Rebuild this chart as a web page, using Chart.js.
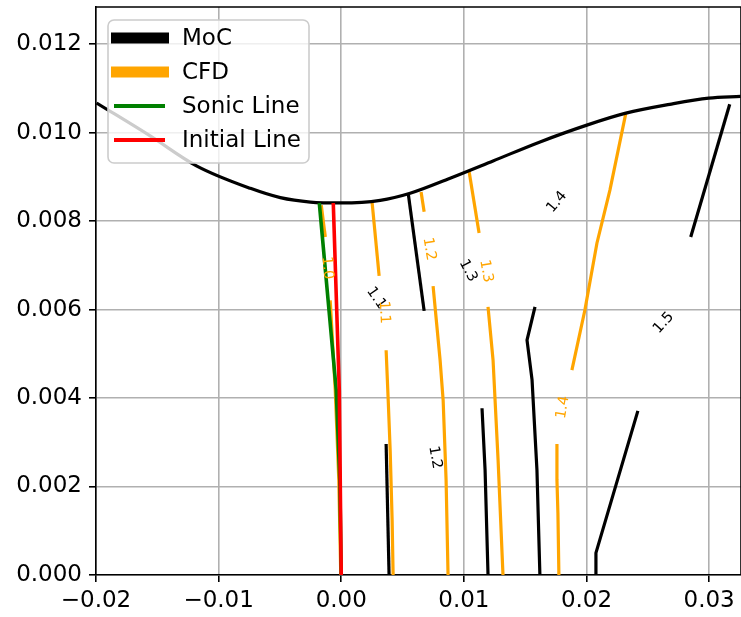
<!DOCTYPE html>
<html>
<head>
<meta charset="utf-8">
<script src="https://cdn.jsdelivr.net/npm/chart.js@4"></script>
<style>
  html, body { margin: 0; padding: 0; background: #fff; }
  #wrap { width: 741px; height: 617px; position: relative; }
</style>
</head>
<body>
<div id="wrap"><canvas id="nozzleChart"></canvas></div>
<script>
// nozzle wall contour
const wallX = [-0.01995, -0.01555, -0.01181, -0.00741, -0.00497, -0.00252, 0, 0.00318, 0.00562, 0.00888, 0.01238, 0.01621, 0.02003, 0.02321, 0.02679, 0.02997, 0.03257];
const wallY = [0.01067, 0.00992, 0.00925, 0.00874, 0.00853, 0.00843, 0.00841, 0.00847, 0.00863, 0.00897, 0.00936, 0.00979, 0.01017, 0.01044, 0.01064, 0.01078, 0.01082];

// sonic line + initial line
const sonicX = [-0.00179, -0.00041, -0.00012, 0];
const sonicY = [0.00841, 0.00418, 0.00215, 0];
const initialX = [-0.00065, -0.00016, 0];
const initialY = [0.00841, 0.00418, 0];

// Mach contours, method of characteristics (each entry = one piece of line, [x, y])
const mocLines = [
  [[0.00546, 0.00863], [0.00676, 0.00597]],
  [[0.00366, 0.00296], [0.00390, 0]],
  [[0.01148, 0.00377], [0.01173, 0.00237], [0.01197, 0]],
  [[0.01580, 0.00606], [0.01515, 0.00531], [0.01556, 0.00441], [0.01596, 0.00237], [0.01620, 0]],
  [[0.02077, 0], [0.02077, 0.00050], [0.02419, 0.00371]],
  [[0.03168, 0.01064], [0.02850, 0.00764]]
];

// Mach contours, CFD
const cfdLines = [
  [[-0.00163, 0.00836], [-0.00130, 0.00764]],
  [[-0.00090, 0.00621], [-0.00049, 0.00418], [-0.00020, 0.00215], [-0.00004, 0]],
  [[0.00252, 0.00841], [0.00309, 0.00676]],
  [[0.00366, 0.00508], [0.00383, 0.00395], [0.00399, 0.00282], [0.00415, 0.00124], [0.00423, 0]],
  [[0.00651, 0.00866], [0.00676, 0.00821]],
  [[0.00749, 0.00653], [0.00806, 0.00486], [0.00831, 0.00395], [0.00855, 0.00215], [0.00871, 0]],
  [[0.01042, 0.00913], [0.01124, 0.00773]],
  [[0.01197, 0.00606], [0.01238, 0.00486], [0.01279, 0.00260], [0.01319, 0]],
  [[0.02321, 0.01044], [0.02191, 0.00870], [0.02085, 0.00750], [0.01987, 0.00599], [0.01881, 0.00463]],
  [[0.01759, 0.00296], [0.01759, 0.00215], [0.01767, 0.00140], [0.01775, 0]]
];

// contour labels: text, x, y, angle
const mocLabels = [
  ['1.1', 0.00285, 0.00626, 55],
  ['1.2', 0.00765, 0.00266, 80],
  ['1.3', 0.01034, 0.00688, 62],
  ['1.4', 0.01759, 0.00843, -50],
  ['1.5', 0.02630, 0.00570, -48]
];
const cfdLabels = [
  ['1.0', -0.00114, 0.00694, 85],
  ['1.1', 0.00350, 0.00594, 87],
  ['1.2', 0.00717, 0.00737, 80],
  ['1.3', 0.01181, 0.00687, 80],
  ['1.4', 0.01808, 0.00379, -80]
];

const xTicksMin = -0.02, xTicksMax = 0.0326;
const yTicksMin = 0, yTicksMax = 0.01284;

const FONT = "'DejaVu Sans', sans-serif";
const ORANGE = '#ffa500';

const toPts = (xs, ys) => xs.map((x, i) => ({x, y: ys[i]}));
const pairPts = arr => arr.map(p => ({x: p[0], y: p[1]}));

const lineSet = (data, color, width, order, extra) => Object.assign({
  data, borderColor: color, backgroundColor: color, borderWidth: width,
  showLine: true, pointRadius: 0, pointHoverRadius: 0, fill: false, order
}, extra || {});

const datasets = [];
datasets.push(lineSet(toPts(initialX, initialY), '#ff0000', 3.6, 0));
datasets.push(lineSet(toPts(sonicX, sonicY), '#008000', 3.6, 1));
datasets.push(lineSet(toPts(wallX, wallY), '#000', 3.2, 2, {cubicInterpolationMode: 'monotone'}));
cfdLines.forEach(l => datasets.push(lineSet(pairPts(l), ORANGE, 3.2, 3)));
mocLines.forEach(l => datasets.push(lineSet(pairPts(l), '#000', 3.2, 4)));

// text labels on contours
const contourLabels = {
  id: 'contourLabels',
  afterDatasetsDraw(chart) {
    const {ctx, scales: {x, y}} = chart;
    const draw = (list, color) => list.forEach(([t, lx, ly, a]) => {
      ctx.save();
      ctx.translate(x.getPixelForValue(lx), y.getPixelForValue(ly));
      ctx.rotate(a * Math.PI / 180);
      ctx.fillStyle = color;
      ctx.font = '14.5px ' + FONT;
      ctx.textAlign = 'center';
      ctx.textBaseline = 'middle';
      ctx.fillText(t, 0, 0);
      ctx.restore();
    });
    draw(mocLabels, '#000');
    draw(cfdLabels, ORANGE);
  }
};

// top/right spines + legend box inside plot
const frameAndLegend = {
  id: 'frameAndLegend',
  afterDraw(chart) {
    const {ctx, chartArea: a} = chart;
    ctx.save();
    ctx.strokeStyle = '#000';
    ctx.lineWidth = 1.6;
    ctx.beginPath();
    ctx.moveTo(a.left, a.top); ctx.lineTo(a.right, a.top);
    ctx.moveTo(a.right, a.top); ctx.lineTo(a.right, a.bottom);
    ctx.stroke();

    // legend
    const bx = 108, by = 20, bw = 201, bh = 143, r = 6;
    ctx.beginPath();
    ctx.roundRect(bx, by, bw, bh, r);
    ctx.fillStyle = 'rgba(255,255,255,0.8)';
    ctx.fill();
    ctx.strokeStyle = '#cccccc';
    ctx.lineWidth = 1.6;
    ctx.stroke();

    const items = [
      ['MoC', '#000', 11, 111, 169],
      ['CFD', ORANGE, 11, 111, 169],
      ['Sonic Line', '#008000', 4, 114, 165],
      ['Initial Line', '#ff0000', 4, 114, 165]
    ];
    items.forEach(([label, color, w, x0, x1], i) => {
      const yy = 38 + i * 34;
      ctx.beginPath();
      ctx.moveTo(x0, yy); ctx.lineTo(x1, yy);
      ctx.strokeStyle = color;
      ctx.lineWidth = w;
      ctx.lineCap = 'butt';
      ctx.stroke();
      ctx.fillStyle = '#000';
      ctx.font = '23px ' + FONT;
      ctx.textAlign = 'left';
      ctx.textBaseline = 'middle';
      ctx.fillText(label, 182, yy + 1);
    });
    ctx.restore();
  }
};

new Chart('nozzleChart', {
  type: 'scatter',
  data: {datasets},
  options: {
    responsive: true,
    maintainAspectRatio: false,
    animation: false,
    layout: {padding: {top: 7, right: 0, left: 0, bottom: 0}},
    plugins: {legend: {display: false}, tooltip: {enabled: false}},
    scales: {
      x: {
        type: 'linear', min: xTicksMin, max: xTicksMax,
        afterFit: s => { s.height = 42; s.paddingLeft = 0; s.paddingRight = 0; },
        ticks: {
          stepSize: 0.01, includeBounds: false, color: '#000', padding: 5,
          font: {family: FONT, size: 23},
          maxRotation: 0,
          callback: v => (v < -1e-9 ? '\u2212' : '') + Math.abs(v).toFixed(2)
        },
        grid: {color: '#b0b0b0', lineWidth: 1.6, tickColor: '#000', tickLength: 7, tickWidth: 1.6},
        border: {color: '#000', width: 1.6}
      },
      y: {
        type: 'linear', min: yTicksMin, max: yTicksMax,
        afterFit: s => { s.width = 96; s.paddingTop = 0; s.paddingBottom = 0; },
        ticks: {
          stepSize: 0.002, includeBounds: false, color: '#000', padding: 7,
          font: {family: FONT, size: 23},
          callback: v => Math.abs(v).toFixed(3)
        },
        grid: {color: '#b0b0b0', lineWidth: 1.6, tickColor: '#000', tickLength: 7, tickWidth: 1.6},
        border: {color: '#000', width: 1.6}
      }
    }
  },
  plugins: [contourLabels, frameAndLegend]
});
</script>
</body>
</html>
